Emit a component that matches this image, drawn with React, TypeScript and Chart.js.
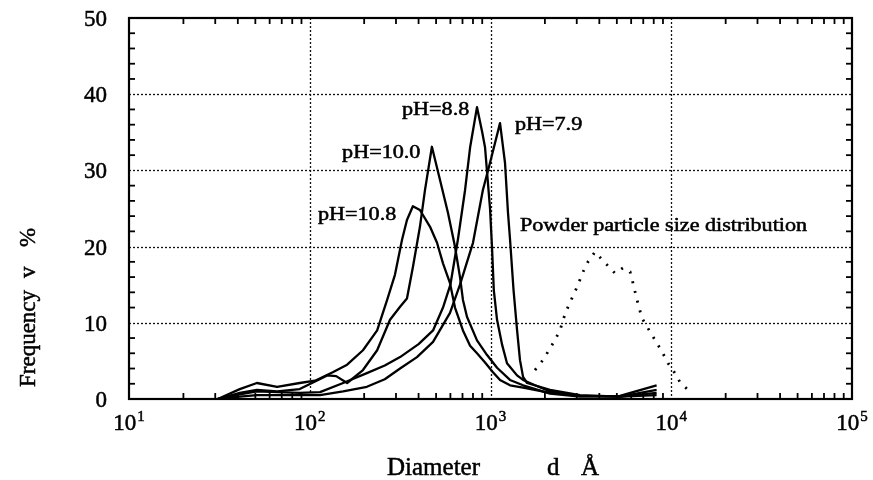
import React, { useEffect, useRef } from 'react';
import { Chart, registerables } from 'chart.js';

Chart.register(...registerables);

// ---- data (diameter in Å, frequency in %) ----
const ph108D = [31, 41, 51, 66, 88, 107, 134, 161, 197, 236, 268, 296, 324, 345, 372, 407, 463, 506, 546, 597, 636, 704, 771, 842, 933, 1032, 1129, 1282, 1514, 2134, 3127, 5200, 8300];
const ph108V = [0, 1.3, 2.1, 1.6, 2.1, 2.4, 3.5, 4.5, 6.4, 9.0, 13.0, 16.3, 20.9, 23.5, 25.3, 24.8, 22.6, 20.5, 17.8, 15.2, 12.0, 9.0, 7.0, 6.0, 4.8, 3.5, 2.5, 1.8, 1.5, 0.8, 0.4, 0.3, 1.2];

const ph100D = [31, 41, 51, 66, 88, 107, 125, 140, 161, 197, 236, 278, 316, 345, 372, 407, 434, 474, 526, 582, 636, 678, 704, 741, 842, 955, 1087, 1282, 1514, 2134, 3127, 5200, 8300];
const ph100V = [0, 0.8, 1.2, 1.0, 1.3, 2.3, 3.1, 3.0, 2.1, 3.8, 6.4, 10.4, 12.1, 13.2, 17.3, 22.6, 27.4, 33.1, 28.7, 24.4, 20.0, 16.0, 13.0, 10.8, 7.7, 5.8, 4.1, 2.5, 1.8, 0.7, 0.3, 0.4, 1.8];

const ph88D = [31, 41, 51, 66, 88, 114, 153, 207, 260, 316, 400, 481, 546, 600, 661, 723, 771, 842, 900, 933, 994, 1019, 1043, 1087, 1160, 1234, 1402, 1514, 1763, 2134, 3127, 5200, 8300];
const ph88V = [0, 0.6, 1.0, 0.9, 0.8, 0.9, 2.1, 3.4, 4.4, 5.5, 7.2, 9.0, 12.0, 15.0, 21.0, 27.4, 33.0, 38.3, 35.0, 33.0, 25.0, 20.0, 14.3, 10.4, 7.1, 4.7, 3.1, 2.5, 1.8, 1.0, 0.4, 0.3, 0.8];

const ph79D = [31, 41, 51, 66, 88, 114, 153, 207, 260, 316, 392, 481, 597, 678, 800, 907, 994, 1129, 1203, 1250, 1282, 1341, 1402, 1456, 1514, 1593, 2134, 3127, 5200, 8300];
const ph79V = [0, 0.3, 0.5, 0.5, 0.5, 0.5, 1.0, 1.6, 2.6, 4.0, 5.5, 7.5, 11.3, 15.0, 20.5, 27.4, 31.0, 36.2, 31.0, 24.4, 21.0, 14.3, 9.1, 5.1, 2.9, 2.1, 1.2, 0.5, 0.3, 0.5];

const powderD = [1763, 1950, 2217, 2425, 2520, 2686, 3012, 3254, 3463, 3786, 4412, 4886, 5410, 5918, 6143, 6467, 6888, 7827, 8894, 9596, 10230, 11180, 12380];
const powderV = [3.8, 5.1, 7.3, 9.0, 10.4, 12.1, 14.7, 16.7, 18.0, 19.3, 17.6, 16.5, 17.2, 16.7, 15.2, 13.0, 10.6, 8.4, 6.2, 4.7, 3.8, 2.2, 1.2];

// ---- axes / labels ----
const xDecades = [10, 100, 1000, 10000, 100000];
const xExponents = ['1', '2', '3', '4', '5'];
const yTickValues = [0, 10, 20, 30, 40, 50];

const labelTexts = ['pH=8.8', 'pH=7.9', 'pH=10.0', 'pH=10.8', 'Powder particle size distribution'];
const labelX = [324, 1366, 151, 111, 1456];
const labelY = [37.3, 35.3, 31.6, 23.5, 22.0];

const xTitleParts = ['Diameter', 'd', 'Å'];
const yTitleParts = ['Frequency', 'v', '%'];

const SERIF = '"Liberation Serif", "Times New Roman", Times, serif';

export default function App() {
  const ref = useRef<HTMLCanvasElement>(null);

  useEffect(() => {
    const canvas = ref.current;
    if (!canvas) return;

    const pts = (d: number[], v: number[]) => d.map((x, i) => ({ x, y: v[i] }));
    const solid = (d: number[], v: number[]) => ({
      data: pts(d, v),
      borderColor: '#000',
      borderWidth: 2.3,
      pointRadius: 0,
      tension: 0,
      fill: false,
      borderJoinStyle: 'round' as const,
    });

    const inkText = (ctx: CanvasRenderingContext2D, t: string, x: number, y: number) => {
      ctx.fillText(t, x, y);
      ctx.strokeText(t, x, y);
    };

    const decorPlugin = {
      id: 'decor',
      beforeDatasetsDraw(chart: any) {
        const { ctx, chartArea: a, scales } = chart;
        const xs = scales.x, ys = scales.y;
        ctx.save();
        ctx.strokeStyle = '#111';
        ctx.lineWidth = 1.3;
        ctx.setLineDash([2, 2]);
        for (let i = 1; i < xDecades.length - 1; i++) {
          const px = Math.round(xs.getPixelForValue(xDecades[i])) + 0.5;
          ctx.beginPath(); ctx.moveTo(px, a.top); ctx.lineTo(px, a.bottom); ctx.stroke();
        }
        for (let i = 1; i < yTickValues.length - 1; i++) {
          const py = Math.round(ys.getPixelForValue(yTickValues[i])) + 0.5;
          ctx.beginPath(); ctx.moveTo(a.left, py); ctx.lineTo(a.right, py); ctx.stroke();
        }
        ctx.restore();
      },
      afterDraw(chart: any) {
        const { ctx, chartArea: a, scales } = chart;
        const xs = scales.x, ys = scales.y;
        ctx.save();
        ctx.setLineDash([]);
        ctx.strokeStyle = '#000';
        const seg = (x1: number, y1: number, x2: number, y2: number) => {
          ctx.beginPath(); ctx.moveTo(x1, y1); ctx.lineTo(x2, y2); ctx.stroke();
        };
        // minor ticks (inward)
        ctx.lineWidth = 1.8;
        for (let i = 0; i < xDecades.length - 1; i++) {
          for (let m = 2; m <= 9; m++) {
            const px = xs.getPixelForValue(xDecades[i] * m);
            seg(px, a.bottom, px, a.bottom - 6);
            seg(px, a.top, px, a.top + 6);
          }
        }
        for (let i = 0; i < yTickValues.length - 1; i++) {
          for (let k = 1; k < 5; k++) {
            const v = yTickValues[i] + (yTickValues[i + 1] - yTickValues[i]) * k / 5;
            const py = ys.getPixelForValue(v);
            seg(a.left, py, a.left + 6, py);
            seg(a.right, py, a.right - 6, py);
          }
        }
        // frame
        ctx.lineWidth = 2.2;
        ctx.strokeRect(a.left, a.top, a.right - a.left, a.bottom - a.top);

        ctx.fillStyle = '#000';
        ctx.lineWidth = 0.5;
        // y tick labels
        ctx.textBaseline = 'middle';
        ctx.textAlign = 'right';
        ctx.font = `23px ${SERIF}`;
        for (let i = 0; i < yTickValues.length; i++) {
          const py = ys.getPixelForValue(yTickValues[i]);
          inkText(ctx, String(yTickValues[i]), a.left - 22, py + 2);
        }
        // x tick labels 10^n
        ctx.textBaseline = 'alphabetic';
        ctx.textAlign = 'left';
        for (let i = 0; i < xDecades.length; i++) {
          const px = xs.getPixelForValue(xDecades[i]);
          ctx.font = `23px ${SERIF}`;
          const wb = ctx.measureText('10').width;
          ctx.font = `15px ${SERIF}`;
          const we = ctx.measureText(xExponents[i]).width;
          const x0 = px - (wb + we + 1) / 2;
          ctx.font = `23px ${SERIF}`;
          inkText(ctx, '10', x0, a.bottom + 31);
          ctx.font = `15px ${SERIF}`;
          inkText(ctx, xExponents[i], x0 + wb + 1, a.bottom + 22);
        }

        // annotations
        ctx.font = `18px ${SERIF}`;
        for (let i = 0; i < labelTexts.length; i++) {
          const px = xs.getPixelForValue(labelX[i]);
          const py = ys.getPixelForValue(labelY[i]);
          ctx.save();
          ctx.translate(px, py);
          ctx.scale(1.23, 1);
          inkText(ctx, labelTexts[i], 0, 0);
          ctx.restore();
        }

        // x title
        ctx.font = `25px ${SERIF}`;
        const xOff = [258, 418, 452];
        for (let i = 0; i < xTitleParts.length; i++) {
          inkText(ctx, xTitleParts[i], a.left + xOff[i], a.bottom + 76);
        }

        // y title (rotated)
        ctx.save();
        ctx.translate(28.5, 0);
        ctx.rotate(-Math.PI / 2);
        ctx.font = `23px ${SERIF}`;
        ctx.textBaseline = 'middle';
        const yOff = [12, 121, 152];
        for (let i = 0; i < yTitleParts.length; i++) {
          inkText(ctx, yTitleParts[i], -(a.bottom - yOff[i]), 0);
        }
        ctx.restore();

        ctx.restore();
      },
    };

    const chart = new Chart(canvas, {
      type: 'line',
      data: {
        datasets: [
          solid(ph108D, ph108V),
          solid(ph100D, ph100V),
          solid(ph88D, ph88V),
          solid(ph79D, ph79V),
          {
            data: pts(powderD, powderV),
            borderColor: '#000',
            borderWidth: 2.8,
            borderDash: [2, 8],
            pointRadius: 0,
            tension: 0,
            fill: false,
          },
        ],
      },
      options: {
        responsive: false,
        animation: false,
        layout: { padding: { top: 18, right: 21, left: 0, bottom: 0 } },
        plugins: { legend: { display: false }, tooltip: { enabled: false } },
        scales: {
          x: {
            type: 'logarithmic',
            min: 10,
            max: 100000,
            grid: { display: false, drawTicks: false },
            border: { display: false },
            ticks: { display: false },
            afterBuildTicks: (scale: any) => {
              scale.ticks = xDecades.map((v) => ({ value: v }));
            },
            afterFit: (scale: any) => { scale.height = 81; },
          },
          y: {
            type: 'linear',
            min: 0,
            max: 50,
            grid: { display: false, drawTicks: false },
            border: { display: false },
            ticks: { display: false },
            afterBuildTicks: (scale: any) => {
              scale.ticks = yTickValues.map((v) => ({ value: v }));
            },
            afterFit: (scale: any) => { scale.width = 129; },
          },
        },
      },
      plugins: [decorPlugin],
    } as any);

    return () => chart.destroy();
  }, []);

  return (
    <div style={{ position: 'absolute', left: 0, top: 0, width: 873, height: 480, background: '#fff' }}>
      <canvas ref={ref} width={873} height={480} style={{ display: 'block' }} />
    </div>
  );
}
